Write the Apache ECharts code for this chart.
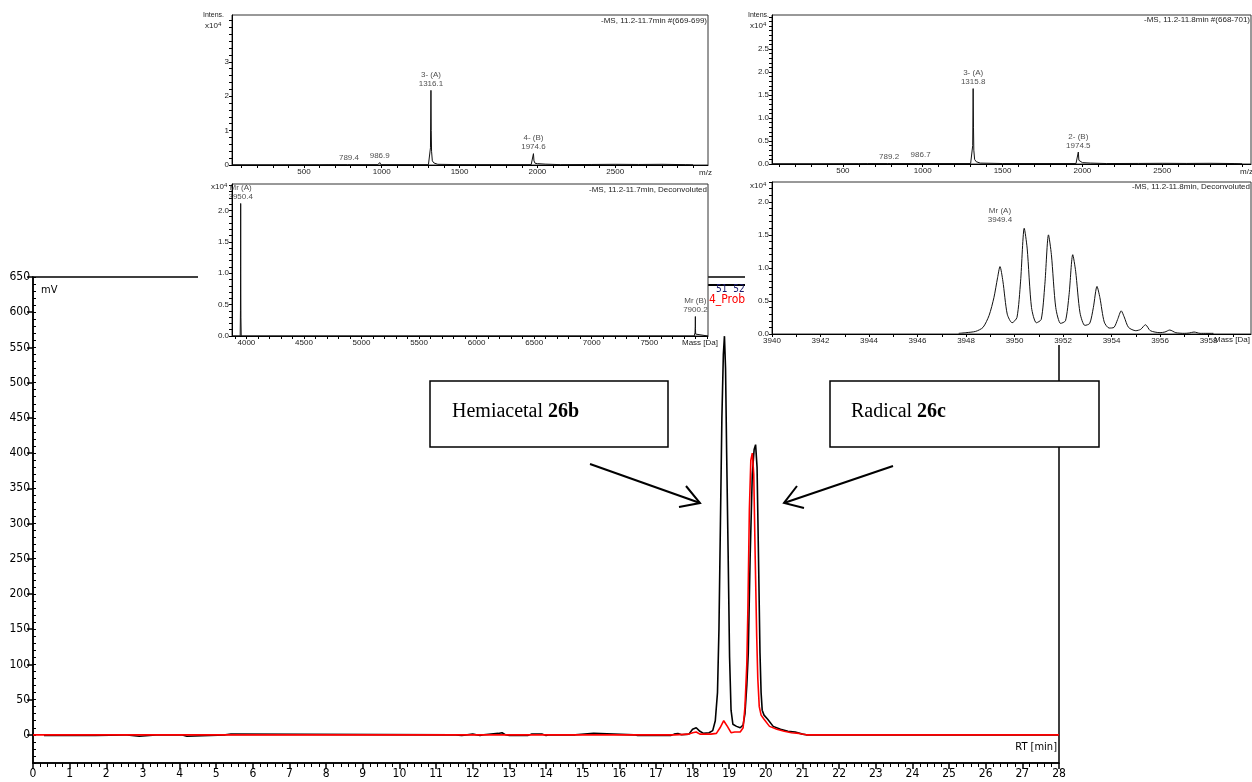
<!DOCTYPE html>
<html><head><meta charset="utf-8">
<script src="https://cdn.jsdelivr.net/npm/echarts@6/dist/echarts.min.js"></script>
<style>html,body{margin:0;padding:0;background:#fff}#c{width:1252px;height:782px}</style>
</head><body><div id="c"></div>
<script>
// ---------------- DATA ----------------
// Main HPLC chromatogram (RT in min, signal in mV)
const rtBlack = [0.3,1.7,1.75,2.5,2.55,2.9,2.95,3.45,3.5,3.55,3.9,3.95,4.05,4.1,4.2,4.25,5.25,5.3,5.4,5.45,11.45,11.5,11.7,11.75,12.0,12.2,12.3,12.7,12.8,12.9,13.0,13.5,13.6,13.9,14.0,14.1,14.8,14.85,15.3,15.35,16.4,16.5,17.4,17.5,17.6,17.7,17.9,18.0,18.1,18.2,18.3,18.45,18.55,18.62,18.68,18.72,18.76,18.8,18.84,18.87,18.9,18.93,18.97,19.01,19.05,19.1,19.2,19.3,19.38,19.43,19.48,19.52,19.57,19.63,19.68,19.72,19.76,19.8,19.84,19.87,19.9,19.95,20.05,20.2,20.4,20.6,20.8,21.0,21.1,21.9,21.95,22.0,28.0];
const mvBlack = [-1,-1,0,0,-2,-2,0,0,-2,0,0,2,0,-2,-2,0,0,2,1,0,0,-1,-1,1,1,-1,0,2,3,0,-1,-1,1,1,-1,0,0,2,2,0,0,-1,-1,1,2,0,1,8,10,5,2,3,6,20,60,150,300,450,540,566,520,400,260,110,35,15,12,10,14,30,70,116,250,370,405,412,380,250,116,60,35,28,22,12,8,5,4,1,0,0,2,0,0];
const rtRed = [0,17.5,17.9,18.0,18.1,18.2,18.5,18.65,18.75,18.85,18.95,19.05,19.15,19.3,19.38,19.43,19.48,19.51,19.55,19.59,19.63,19.67,19.71,19.75,19.78,19.82,19.87,19.95,20.1,20.3,20.5,20.7,20.9,21.1,28];
const mvRed = [0,0,1,3,4,1,1,2,10,20,12,3,4,4,10,40,100,180,320,390,400,370,250,140,80,40,28,22,12,8,5,3,2,0,0];
const rtTickLabels = [0,1,2,3,4,5,6,7,8,9,10,11,12,13,14,15,16,17,18,19,20,21,22,23,24,25,26,27,28];
const mvTickLabels = [0,50,100,150,200,250,300,350,400,450,500,550,600,650];

// Inset 1: MS, 11.2-11.7 min (m/z, intensity x10^4)
const ms1Mz  = [38,300,600,655,660,665,780,789.4,798,975,986.9,995,1300,1310,1313,1316.1,1318,1320,1325,1335,1360,1500,1960,1970,1974.6,1978,1985,2000,2050,2150,2350,2500,2650,2800,2950,3000];
const ms1Int = [0.005,0.005,0.008,0.01,0.04,0.01,0.01,0.025,0.01,0.01,0.07,0.01,0.01,0.05,0.5,2.17,1.0,0.4,0.12,0.06,0.02,0.01,0.01,0.05,0.33,0.12,0.05,0.04,0.025,0.01,0.015,0.02,0.015,0.02,0.01,0.005];
const ms1LabMz   = [789.4, 986.9, 1316.1, 1974.6];
const ms1LabInt  = [0.025, 0.07, 2.17, 0.33];
const ms1LabText = ['789.4', '986.9', '3- (A)\n1316.1', '4- (B)\n1974.6'];

// Inset 2: deconvoluted, 11.2-11.7 min (mass Da, intensity x10^4)
const dc1Mass = [3875,3946,3948.5,3949.6,3950.4,3951.2,3952.5,3955,7890,7897,7899.5,7900.2,7901,7903,7910,8010];
const dc1Int  = [0,0,0.4,1.1,2.11,1.0,0.3,0,0,0.05,0.15,0.31,0.12,0.03,0,0];
const dc1LabMass = [3950.4, 7900.2];
const dc1LabInt  = [2.11, 0.31];
const dc1LabText = ['Mr (A)\n3950.4', 'Mr (B)\n7900.2'];

// Inset 3: MS, 11.2-11.8 min
const ms2Mz  = [56,300,600,655,660,665,780,789.2,798,975,986.7,995,1300,1310,1313,1315.8,1318,1320,1325,1335,1360,1500,1960,1970,1974.5,1978,1985,2000,2050,2150,2350,2500,2650,2800,2950,3000];
const ms2Int = [0.005,0.005,0.008,0.01,0.025,0.01,0.01,0.02,0.01,0.01,0.05,0.01,0.01,0.04,0.4,1.64,0.8,0.3,0.1,0.05,0.02,0.01,0.01,0.04,0.26,0.08,0.04,0.03,0.02,0.01,0.012,0.015,0.012,0.015,0.01,0.005];
const ms2LabMz   = [789.2, 986.7, 1315.8, 1974.5];
const ms2LabInt  = [0.02, 0.05, 1.64, 0.26];
const ms2LabText = ['789.2', '986.7', '3- (A)\n1315.8', '2- (B)\n1974.5'];

// Inset 4: deconvoluted isotope envelope, 11.2-11.8 min
const dc2Mass = [3947.7,3948.0,3948.4,3948.7,3948.95,3949.15,3949.3,3949.4,3949.52,3949.7,3949.9,3950.1,3950.25,3950.4,3950.52,3950.7,3950.9,3951.1,3951.25,3951.4,3951.52,3951.7,3951.9,3952.1,3952.25,3952.4,3952.52,3952.7,3952.9,3953.1,3953.25,3953.4,3953.52,3953.7,3953.9,3954.1,3954.25,3954.4,3954.52,3954.7,3955.0,3955.2,3955.4,3955.6,3956.0,3956.2,3956.4,3956.65,3957.0,3957.2,3957.4,3957.65,3958.2];
const dc2Int  = [0.01,0.02,0.04,0.1,0.28,0.55,0.85,1.02,0.8,0.3,0.17,0.25,0.8,1.6,1.3,0.4,0.17,0.22,0.75,1.5,1.2,0.4,0.16,0.2,0.6,1.2,0.95,0.32,0.13,0.16,0.4,0.72,0.55,0.18,0.09,0.1,0.22,0.35,0.26,0.1,0.05,0.07,0.14,0.05,0.02,0.03,0.06,0.02,0.01,0.015,0.03,0.01,0.01];
const dc2LabMass = [3949.4];
const dc2LabInt  = [1.02];
const dc2LabText = ['Mr (A)\n3949.4'];

// ---------------- HELPERS ----------------
function zip(a, b) { return a.map((v, i) => [v, b[i]]); }
function labelData(xs, ys, txt) { return xs.map((v, i) => ({ value: [v, ys[i]], name: txt[i] })); }
function range(a, b, s) { const r = []; for (let i = 0; a + i * s <= b + 1e-9; i++) r.push(+(a + i * s).toFixed(6)); return r; }

const NARROW = "'Liberation Sans Narrow','DejaVu Sans Condensed','Liberation Sans',sans-serif";
const SANS = "'Liberation Sans',Arial,sans-serif";
const SERIF = "'Liberation Serif','Times New Roman',serif";

const chart = echarts.init(document.getElementById('c'), null, { renderer: 'canvas', width: 1252, height: 782 });

const INZ = 12;
function insetX(gi, min, max, labels, ticks, fmt) {
  return {
    type: 'value', gridIndex: gi, min: min, max: max, z: INZ,
    axisLine: { show: true, onZero: false, lineStyle: { color: '#000', width: 1 } },
    axisTick: { show: true, customValues: ticks, length: 3, lineStyle: { color: '#000', width: 1 } },
    axisLabel: { show: true, customValues: labels, formatter: fmt, fontFamily: SANS, fontSize: 8, color: '#222', margin: 3 },
    splitLine: { show: false }
  };
}
function insetY(gi, min, max, labels, ticks, fmt) {
  return {
    type: 'value', gridIndex: gi, min: min, max: max, z: INZ,
    axisLine: { show: true, onZero: false, lineStyle: { color: '#000', width: 1 } },
    axisTick: { show: true, customValues: ticks, length: 3, lineStyle: { color: '#000', width: 1 } },
    axisLabel: { show: true, customValues: labels, formatter: fmt, fontFamily: SANS, fontSize: 8, color: '#222', margin: 3 },
    splitLine: { show: false }
  };
}
function specSeries(xi, yi, data, smooth) {
  return { type: 'line', xAxisIndex: xi, yAxisIndex: yi, data: data, symbol: 'none', smooth: smooth || false,
    lineStyle: { color: '#111', width: 1 }, z: 13, silent: true, animation: false, clip: true };
}
function labSeries(xi, yi, data, offY) {
  return { type: 'scatter', xAxisIndex: xi, yAxisIndex: yi, data: data, symbolSize: 0, z: 14, silent: true, animation: false,
    label: { show: true, position: 'top', distance: 2, offset: [0, offY || 0], formatter: p => p.name,
      fontFamily: SANS, fontSize: 8, lineHeight: 9, color: '#222', align: 'center' } };
}
const f0 = v => String(Math.round(v));
const f1 = v => v.toFixed(1);
const sup = { a: { font: '8px ' + SANS, fill: '#222' }, b: { font: '6px ' + SANS, fill: '#222', verticalAlign: 'top', padding: [0, 0, 4, 0] } };

const option = {
  animation: false,
  backgroundColor: '#fff',
  grid: [
    { left: 33, top: 277, width: 1026, height: 486, show: true, borderColor: '#000', borderWidth: 1.5, backgroundColor: 'transparent' },
    { left: 232, top: 15, width: 476, height: 150, show: true, borderColor: '#333', borderWidth: 1, backgroundColor: '#fff', z: 11 },
    { left: 232, top: 184, width: 476, height: 152, show: true, borderColor: '#333', borderWidth: 1, backgroundColor: '#fff', z: 11 },
    { left: 772, top: 15, width: 479, height: 149, show: true, borderColor: '#333', borderWidth: 1, backgroundColor: '#fff', z: 11 },
    { left: 772, top: 182, width: 479, height: 152, show: true, borderColor: '#333', borderWidth: 1, backgroundColor: '#fff', z: 11 }
  ],
  xAxis: [
    { type: 'value', gridIndex: 0, min: 0, max: 28, interval: 1,
      axisLine: { onZero: false, lineStyle: { color: '#000', width: 1.5 } },
      axisTick: { length: 6, lineStyle: { color: '#000', width: 1.5 } },
      minorTick: { show: true, splitNumber: 5, length: 4, lineStyle: { color: '#000', width: 1 } },
      axisLabel: { customValues: rtTickLabels, fontFamily: NARROW, fontSize: 12, color: '#000', margin: 5 },
      splitLine: { show: false }, minorSplitLine: { show: false } },
    insetX(1, 38, 3096, [500, 1000, 1500, 2000, 2500], range(100, 3000, 100), f0),
    insetX(2, 3875, 8010, [4000, 4500, 5000, 5500, 6000, 6500, 7000, 7500], range(3900, 8000, 100), f0),
    insetX(3, 56, 3056, [500, 1000, 1500, 2000, 2500], range(100, 3000, 100), f0),
    insetX(4, 3940, 3959.75, range(3940, 3958, 2), range(3940, 3959, 1), f0)
  ],
  yAxis: [
    { type: 'value', gridIndex: 0, min: -40, max: 650,
      axisLine: { show: true, onZero: false, lineStyle: { color: '#000', width: 1.5 } },
      axisTick: { show: true, customValues: mvTickLabels, length: 6, lineStyle: { color: '#000', width: 1.5 } },
      axisLabel: { customValues: mvTickLabels, fontFamily: NARROW, fontSize: 12, color: '#000', margin: 3 },
      splitLine: { show: false } },
    { type: 'value', gridIndex: 0, min: -40, max: 650, interval: 10,
      axisLine: { show: false }, axisLabel: { show: false }, splitLine: { show: false },
      axisTick: { show: true, length: 3, lineStyle: { color: '#000', width: 1 } } },
    insetY(1, 0, 4.36, [0, 1, 2, 3], range(0, 4.2, 0.2), f0),
    insetY(2, 0, 2.42, [0, 0.5, 1, 1.5, 2], range(0, 2.4, 0.1), f1),
    insetY(3, 0, 3.24, [0, 0.5, 1, 1.5, 2, 2.5], range(0, 3.2, 0.1), f1),
    insetY(4, 0, 2.3, [0, 0.5, 1, 1.5, 2], range(0, 2.3, 0.1), f1)
  ],
  series: [
    { type: 'line', xAxisIndex: 0, yAxisIndex: 0, data: zip(rtBlack, mvBlack), symbol: 'none',
      lineStyle: { color: '#000', width: 1.6 }, z: 3, silent: true },
    { type: 'line', xAxisIndex: 0, yAxisIndex: 0, data: zip(rtRed, mvRed), symbol: 'none',
      lineStyle: { color: '#ff0000', width: 1.6 }, z: 4, silent: true },
    specSeries(1, 2, zip(ms1Mz, ms1Int)),
    labSeries(1, 2, labelData(ms1LabMz, ms1LabInt, ms1LabText)),
    specSeries(2, 3, zip(dc1Mass, dc1Int)),
    labSeries(2, 3, labelData(dc1LabMass, dc1LabInt, dc1LabText)),
    specSeries(3, 4, zip(ms2Mz, ms2Int)),
    labSeries(3, 4, labelData(ms2LabMz, ms2LabInt, ms2LabText)),
    specSeries(4, 5, zip(dc2Mass, dc2Int), 0.25),
    labSeries(4, 5, labelData(dc2LabMass, dc2LabInt, dc2LabText), -40)
  ],
  graphic: [
    // header remnants of the chromatogram window
    { type: 'line', z: 1, shape: { x1: 708, y1: 285, x2: 746, y2: 285 }, style: { stroke: '#000', lineWidth: 2 } },
    { type: 'text', z: 1, left: 716, top: 284, style: { text: '51  52', font: '10px ' + NARROW, fill: '#1a1a6a' } },
    { type: 'text', z: 1, left: 709, top: 294, style: { text: '4_Prob', font: '12px ' + NARROW, fill: '#ff0000' } },
    // white backgrounds of the MS insets
    { type: 'rect', z: 10, shape: { x: 198, y: 0, width: 510, height: 347 }, style: { fill: '#fff' } },
    { type: 'rect', z: 10, shape: { x: 745, y: 0, width: 507, height: 345 }, style: { fill: '#fff' } },
    // inset texts
    { type: 'text', z: 15, left: 203, top: 12, style: { text: 'Intens.', font: '7px ' + SANS, fill: '#222' } },
    { type: 'text', z: 15, left: 205, top: 21, style: { text: '{a|x10}{b|4}', rich: sup } },
    { type: 'text', z: 15, right: 1252 - 707, top: 17, style: { text: '-MS, 11.2-11.7min #(669-699)', font: '8px ' + SANS, fill: '#222' } },
    { type: 'text', z: 15, left: 699, top: 169, style: { text: 'm/z', font: '8px ' + SANS, fill: '#222' } },
    { type: 'text', z: 15, left: 211, top: 182, style: { text: '{a|x10}{b|4}', rich: sup } },
    { type: 'text', z: 15, right: 1252 - 707, top: 186, style: { text: '-MS, 11.2-11.7min, Deconvoluted', font: '8px ' + SANS, fill: '#222' } },
    { type: 'text', z: 15, left: 682, top: 339, style: { text: 'Mass [Da]', font: '8px ' + SANS, fill: '#222' } },
    { type: 'text', z: 15, left: 748, top: 12, style: { text: 'Intens.', font: '7px ' + SANS, fill: '#222' } },
    { type: 'text', z: 15, left: 750, top: 21, style: { text: '{a|x10}{b|4}', rich: sup } },
    { type: 'text', z: 15, right: 2, top: 16, style: { text: '-MS, 11.2-11.8min #(668-701)', font: '8px ' + SANS, fill: '#222' } },
    { type: 'text', z: 15, left: 1240, top: 168, style: { text: 'm/z', font: '8px ' + SANS, fill: '#222' } },
    { type: 'text', z: 15, left: 750, top: 181, style: { text: '{a|x10}{b|4}', rich: sup } },
    { type: 'text', z: 15, right: 2, top: 183, style: { text: '-MS, 11.2-11.8min, Deconvoluted', font: '8px ' + SANS, fill: '#222' } },
    { type: 'text', z: 15, left: 1214, top: 336, style: { text: 'Mass [Da]', font: '8px ' + SANS, fill: '#222' } },
    // main chart units
    { type: 'text', z: 5, left: 41, top: 285, style: { text: 'mV', font: '11px ' + NARROW, fill: '#000' } },
    { type: 'text', z: 5, right: 1252 - 1057, top: 742, style: { text: 'RT [min]', font: '11px ' + NARROW, fill: '#000' } },
    // annotation boxes
    { type: 'rect', z: 20, shape: { x: 430, y: 381, width: 238, height: 66 }, style: { fill: '#fff', stroke: '#000', lineWidth: 1.5 } },
    { type: 'text', z: 21, left: 452, top: 402, style: { text: '{n|Hemiacetal }{b|26b}', rich: { n: { font: '20px ' + SERIF, fill: '#000' }, b: { font: 'bold 20px ' + SERIF, fill: '#000' } } } },
    { type: 'rect', z: 20, shape: { x: 830, y: 381, width: 269, height: 66 }, style: { fill: '#fff', stroke: '#000', lineWidth: 1.5 } },
    { type: 'text', z: 21, left: 851, top: 402, style: { text: '{n|Radical }{b|26c}', rich: { n: { font: '20px ' + SERIF, fill: '#000' }, b: { font: 'bold 20px ' + SERIF, fill: '#000' } } } },
    // arrows
    { type: 'polyline', z: 21, shape: { points: [[590, 464], [700, 503]] }, style: { stroke: '#000', lineWidth: 2, fill: null } },
    { type: 'polyline', z: 21, shape: { points: [[686, 486], [700, 503], [679, 507]] }, style: { stroke: '#000', lineWidth: 2, fill: null } },
    { type: 'polyline', z: 21, shape: { points: [[893, 466], [784, 503]] }, style: { stroke: '#000', lineWidth: 2, fill: null } },
    { type: 'polyline', z: 21, shape: { points: [[797, 486], [784, 503], [804, 508]] }, style: { stroke: '#000', lineWidth: 2, fill: null } }
  ]
};
chart.setOption(option);
</script>
</body></html>
